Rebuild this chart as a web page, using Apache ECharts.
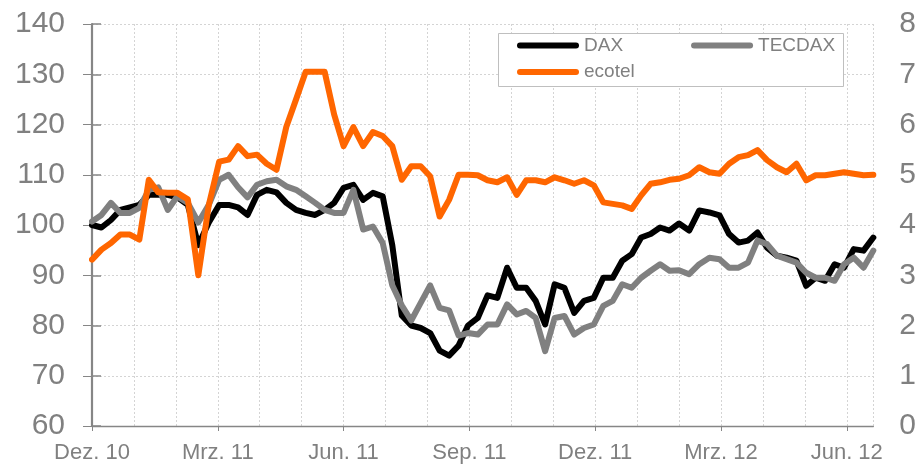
<!DOCTYPE html>
<html>
<head>
<meta charset="utf-8">
<script src="https://cdn.jsdelivr.net/npm/echarts@6/dist/echarts.min.js"></script>
<style>
  html, body { margin: 0; padding: 0; background: #fff; }
  #chart { width: 919px; height: 465px; }
</style>
</head>
<body>
<div id="chart"></div>
<script>
// weekly readings (Wednesdays)
const dates = [
  '2010-12-01', '2010-12-08', '2010-12-15', '2010-12-22', '2010-12-29',
  '2011-01-05', '2011-01-12', '2011-01-19', '2011-01-26',
  '2011-02-02', '2011-02-09', '2011-02-16', '2011-02-23',
  '2011-03-02', '2011-03-09', '2011-03-16', '2011-03-23', '2011-03-30',
  '2011-04-06', '2011-04-13', '2011-04-20', '2011-04-27',
  '2011-05-04', '2011-05-11', '2011-05-18', '2011-05-25',
  '2011-06-01', '2011-06-08', '2011-06-15', '2011-06-22', '2011-06-29',
  '2011-07-06', '2011-07-13', '2011-07-20', '2011-07-27',
  '2011-08-03', '2011-08-10', '2011-08-17', '2011-08-24', '2011-08-31',
  '2011-09-07', '2011-09-14', '2011-09-21', '2011-09-28',
  '2011-10-05', '2011-10-12', '2011-10-19', '2011-10-26',
  '2011-11-02', '2011-11-09', '2011-11-16', '2011-11-23', '2011-11-30',
  '2011-12-07', '2011-12-14', '2011-12-21', '2011-12-28',
  '2012-01-04', '2012-01-11', '2012-01-18', '2012-01-25',
  '2012-02-01', '2012-02-08', '2012-02-15', '2012-02-22', '2012-02-29',
  '2012-03-07', '2012-03-14', '2012-03-21', '2012-03-28',
  '2012-04-04', '2012-04-11', '2012-04-18', '2012-04-25',
  '2012-05-02', '2012-05-09', '2012-05-16', '2012-05-23', '2012-05-30',
  '2012-06-06', '2012-06-13', '2012-06-20'
]

const dax = [
  100, 99.5, 101, 103, 103.5, 104, 106, 106, 106, 105.5,
  104, 96, 100.5, 104, 104, 103.5, 102, 106, 107, 106.5,
  104.4, 103, 102.4, 102, 103, 104.4, 107.4, 108, 105, 106.4,
  105.7, 96, 82, 80, 79.5, 78.5, 75, 74, 76, 80,
  81.5, 86, 85.5, 91.5, 87.5, 87.5, 84.9, 80.2, 88.2, 87.5,
  82.5, 84.9, 85.5, 89.5, 89.5, 92.9, 94.2, 97.5, 98.2, 99.5,
  98.9, 100.3, 98.9, 102.9, 102.5, 101.9, 98.2, 96.5, 96.9, 98.5,
  95.5, 93.9, 93.5, 92.9, 87.9, 89.5, 88.9, 92.2, 91.5, 95.2,
  94.9, 97.5
]

const tecdax = [
  100.7, 102, 104.4, 102.4, 102.4, 103.4, 107, 107.5, 103, 105.7,
  104.4, 100.5, 104, 109, 110, 107.5, 105.5, 108, 108.7, 109,
  107.7, 107, 105.7, 104.4, 103, 102.4, 102.4, 107, 99.1, 99.7,
  96.4, 88, 84, 81, 84.5, 88, 83.5, 83, 78, 78.5,
  78.2, 80.2, 80.2, 84.2, 82.2, 82.9, 81.5, 74.9, 81.5, 81.9,
  78.2, 79.5, 80.2, 83.9, 84.9, 88.2, 87.5, 89.5, 90.9, 92.2,
  90.9, 91, 90.2, 92.2, 93.5, 93.2, 91.5, 91.5, 92.5, 96.9,
  96.2, 93.9, 93.2, 92.5, 90.5, 89.5, 89.5, 88.9, 92.2, 93.5,
  91.5, 94.9
]

// ecotel share price (right axis)
const ecotel = [
  3.31, 3.51, 3.64, 3.81, 3.81, 3.71, 4.9, 4.65, 4.64, 4.64,
  4.51, 3.0, 4.4, 5.26, 5.3, 5.57, 5.37, 5.4, 5.22, 5.1,
  5.95, 6.5, 7.05, 7.05, 7.05, 6.2, 5.57, 5.95, 5.57, 5.85,
  5.77, 5.57, 4.9, 5.17, 5.17, 4.97, 4.17, 4.5, 5.0, 5.0,
  4.99, 4.89, 4.85, 4.95, 4.6, 4.89, 4.89, 4.85, 4.95, 4.89,
  4.82, 4.89, 4.79, 4.45, 4.42, 4.39, 4.32, 4.59, 4.82, 4.85,
  4.9, 4.92, 4.99, 5.15, 5.05, 5.02, 5.22, 5.35, 5.39, 5.49,
  5.29, 5.15, 5.05, 5.22, 4.89, 4.99, 4.99, 5.02, 5.05, 5.02,
  4.99, 5.0
]

const xLabels = ['Dez. 10', 'Mrz. 11', 'Jun. 11', 'Sep. 11', 'Dez. 11', 'Mrz. 12', 'Jun. 12']

// months since 1 Dec 2010
function monthPos (s) {
  const [y, m, d] = s.split('-').map(Number)
  const days = new Date(y, m, 0).getDate()
  return (y - 2010) * 12 + (m - 12) + (d - 1) / days
}

const xMax = monthPos(dates[dates.length - 1])
const quarterTicks = xLabels.map((l, i) => i * 3)
const font = 'Liberation Sans, Arial, sans-serif'
const grey = '#808080'
const capsule = 'path://M3,0L59,0A3,3,0,0,1,59,6L3,6A3,3,0,0,1,3,0Z'

const chart = echarts.init(document.getElementById('chart'))

const legendBase = {
  orient: 'horizontal',
  left: 517,
  padding: 0,
  itemWidth: 62,
  itemHeight: 6,
  itemGap: 68,
  icon: capsule,
  textStyle: { fontSize: 19, color: grey, fontFamily: font }
}

chart.setOption({
  animation: false,
  textStyle: { fontFamily: font },
  grid: { left: 92, right: 45, top: 24, bottom: 39 },
  graphic: [{
    type: 'rect',
    z: 3,
    shape: { x: 498.5, y: 33.5, width: 345, height: 53 },
    style: { fill: '#fff', stroke: '#bfbfbf', lineWidth: 1 }
  }],
  legend: [
    Object.assign({}, legendBase, { top: 36, data: ['DAX', 'TECDAX'] }),
    Object.assign({}, legendBase, { top: 62.5, data: ['ecotel'] })
  ],
  xAxis: [
    {
      type: 'value',
      min: 0,
      max: xMax,
      interval: 1,
      axisLine: { lineStyle: { color: '#868686', width: 1.3 } },
      axisTick: { show: false },
      axisLabel: { show: false },
      splitLine: { lineStyle: { color: '#d4d4d4', type: [2, 2] } }
    },
    {
      type: 'value',
      position: 'bottom',
      min: 0,
      max: xMax,
      interval: 3,
      axisLine: { show: false },
      axisTick: { show: true, length: 5, customValues: quarterTicks, lineStyle: { color: '#868686' } },
      axisLabel: {
        customValues: quarterTicks,
        fontSize: 22,
        color: grey,
        margin: 16,
        formatter: v => (v % 3 === 0 && xLabels[v / 3]) ? xLabels[v / 3] : ''
      },
      splitLine: { show: false }
    }
  ],
  yAxis: [
    {
      type: 'value',
      position: 'left',
      min: 60,
      max: 140,
      interval: 10,
      axisLine: { show: true, lineStyle: { color: '#868686', width: 1 } },
      axisTick: { show: true, length: 9, lineStyle: { color: '#868686' } },
      axisLabel: { fontSize: 30, color: grey, margin: 27 },
      splitLine: { lineStyle: { color: '#d4d4d4', type: [2, 2] } }
    },
    {
      type: 'value',
      position: 'right',
      min: 0,
      max: 8,
      interval: 1,
      axisLine: { show: true, lineStyle: { color: '#868686', width: 2.2 } },
      axisTick: { show: true, length: 9, lineStyle: { color: '#868686', width: 1.5 } },
      axisLabel: { fontSize: 30, color: grey, margin: 26 },
      splitLine: { show: false }
    }
  ],
  series: [
    {
      name: 'DAX',
      type: 'line',
      symbol: 'none',
      color: '#000000',
      lineStyle: { width: 6, cap: 'round', join: 'round' },
      data: dates.map((d, i) => [monthPos(d), dax[i]])
    },
    {
      name: 'TECDAX',
      type: 'line',
      symbol: 'none',
      color: '#808080',
      lineStyle: { width: 6, cap: 'round', join: 'round' },
      data: dates.map((d, i) => [monthPos(d), tecdax[i]])
    },
    {
      name: 'ecotel',
      type: 'line',
      yAxisIndex: 1,
      symbol: 'none',
      color: '#ff6600',
      lineStyle: { width: 6, cap: 'round', join: 'round' },
      data: dates.map((d, i) => [monthPos(d), ecotel[i]])
    }
  ]
})
</script>
</body>
</html>
